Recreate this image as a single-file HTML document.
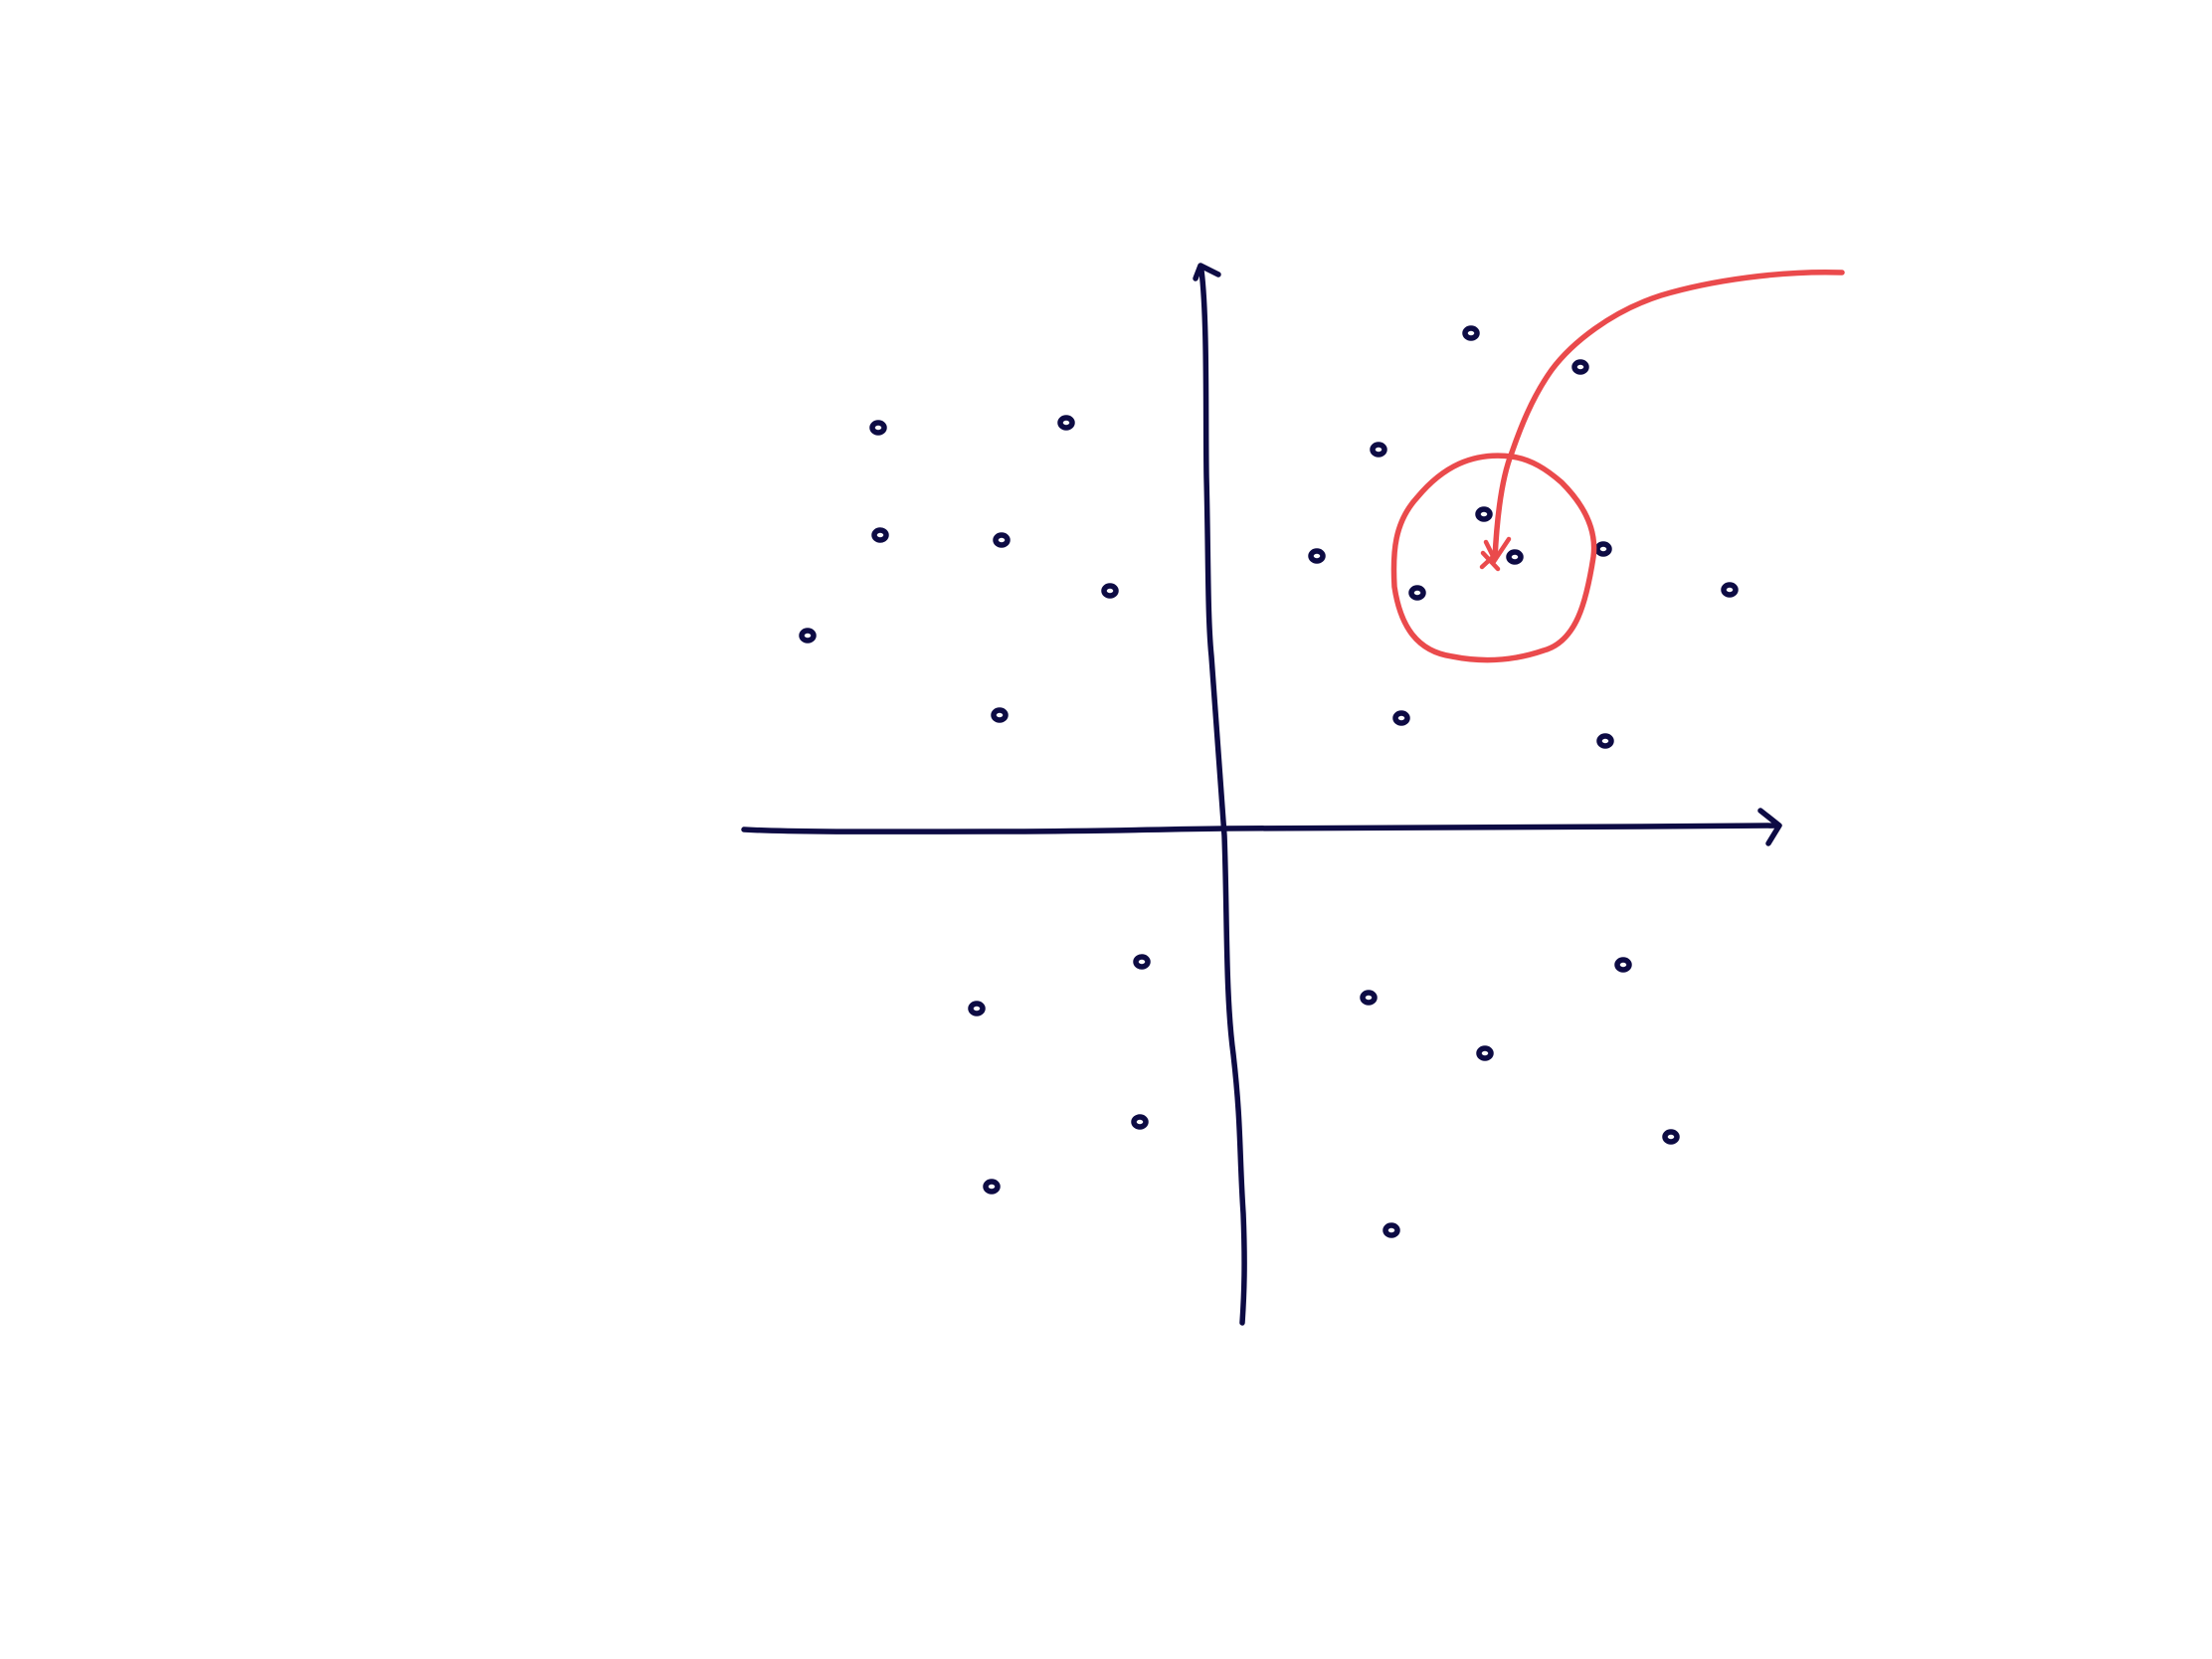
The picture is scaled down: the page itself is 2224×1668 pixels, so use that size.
<!DOCTYPE html>
<html><head><meta charset="utf-8"><style>
html,body{margin:0;padding:0;background:#fff;}
svg{display:block;}
</style></head><body>
<svg id="chart" width="2224" height="1668" viewBox="0 0 2224 1668" xmlns="http://www.w3.org/2000/svg">
<rect width="2224" height="1668" fill="#fff"/>
<g id="axes">
<path d="M748,834 C800,837 900,836 1000,836 C1100,836 1150,834 1231,833 C1400,831 1600,832 1788,830" fill="none" stroke="#0d0b44" stroke-width="5.5" stroke-linecap="round"/>
<path d="M1770,815 L1789,830 L1778,848" fill="none" stroke="#0d0b44" stroke-width="5.5" stroke-linecap="round" stroke-linejoin="round"/>
<path d="M1208,272 C1214,320 1212,420 1213,480 C1215,560 1214,620 1218,660 C1224,740 1228,800 1231,840 C1234,920 1232,1000 1240,1060 C1248,1130 1246,1160 1250,1220 C1252,1270 1251,1300 1249,1330" fill="none" stroke="#0d0b44" stroke-width="5.5" stroke-linecap="round"/>
<path d="M1202,280 L1207,267 L1225,276" fill="none" stroke="#0d0b44" stroke-width="5.5" stroke-linecap="round" stroke-linejoin="round"/>
</g>
<g id="points"></g>
<g id="annot">
<path d="M1520,459 C1480,454 1450,470 1425,500 C1402,525 1400,555 1402,590 C1408,630 1425,655 1460,660 C1490,666 1520,665 1552,654 C1585,645 1595,605 1602,560 C1606,530 1590,505 1570,485 C1555,472 1540,462 1520,459 Z" fill="none" stroke="#ea4a4c" stroke-width="5.5"/>
<path d="M1852,274 C1790,272 1720,282 1670,297 C1620,313 1580,345 1560,372 C1540,400 1528,432 1520,455 C1510,480 1505,520 1503,562" fill="none" stroke="#ea4a4c" stroke-width="5.5" stroke-linecap="round"/>
<path d="M1494,545 L1503,563 L1517,542" fill="none" stroke="#ea4a4c" stroke-width="4.5" stroke-linecap="round"/>
<path d="M1490,570 L1504,557 M1491,556 L1506,572" fill="none" stroke="#ea4a4c" stroke-width="4.5" stroke-linecap="round"/>
</g>
</svg>
<script>
const xValues=[-6.9,-3.12,-6.86,-4.42,-2.24,-8.32,-4.46,5.02,7.22,3.16,5.28,1.92,5.9,7.68,3.94,10.22,3.62,7.72,-1.6,-4.92,2.96,8.08,5.3,-1.64,-4.62,9.04,3.42];
const yValues=[8.04,8.14,5.88,5.78,4.76,3.86,2.26,9.94,9.26,7.6,6.3,5.46,5.44,5.6,4.72,4.78,2.2,1.74,-2.7,-3.64,-3.42,-2.76,-4.54,-5.92,-7.22,-6.22,-8.1];
const ox=1228, oy=832, unit=50;
function sx(v){return ox+v*unit;}
function sy(v){return oy-v*unit;}
const g=document.getElementById('points');
for(let i=0;i<xValues.length;i++){
  const c=document.createElementNS('http://www.w3.org/2000/svg','ellipse');
  
  
  c.setAttribute('cx',sx(xValues[i]));
  c.setAttribute('cy',sy(yValues[i]));
  c.setAttribute('rx',6);
  c.setAttribute('ry',5);
  c.setAttribute('fill','none');
  c.setAttribute('stroke','#0d0b44');
  c.setAttribute('stroke-width',5.5);
  g.appendChild(c);
}
</script>
</body></html>
